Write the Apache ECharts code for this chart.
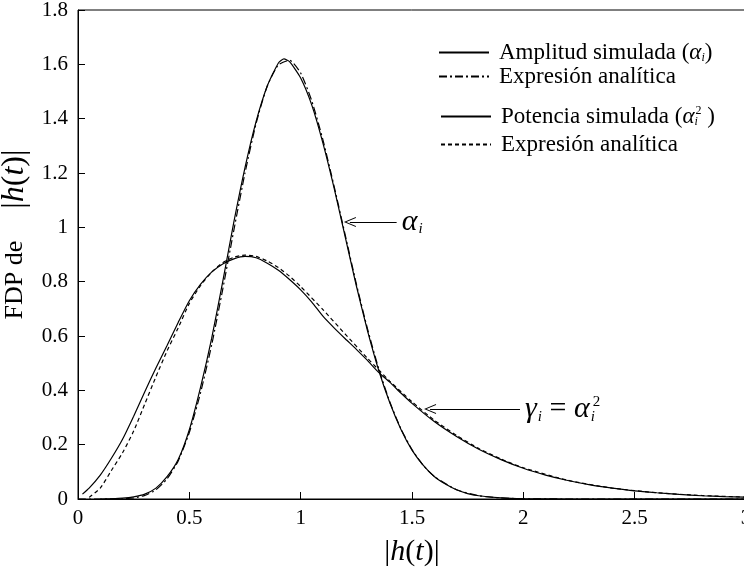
<!DOCTYPE html>
<html><head><meta charset="utf-8">
<script src="https://cdn.jsdelivr.net/npm/echarts/dist/echarts.min.js"></script>
<style>html,body{margin:0;padding:0;background:#fff}#c{width:744px;height:570px}</style>
</head><body><div id="c"></div>
<script>
// ---- data ----
const alphaSimX = [0.1,0.15,0.2,0.25,0.3,0.35,0.4,0.45,0.5,0.55,0.6,0.65,0.7,0.75,0.8,0.85,0.9,0.925,0.95,1.0,1.05,1.1,1.15,1.2,1.25,1.3,1.35,1.4,1.45,1.5,1.55,1.6,1.65,1.7,1.75,1.8,1.9,2.0,2.2,2.5,3.0];
const alphaSimY = [0,0.001,0.003,0.008,0.018,0.04,0.082,0.145,0.255,0.41,0.59,0.8,1.02,1.22,1.39,1.52,1.605,1.62,1.61,1.55,1.45,1.31,1.145,0.965,0.785,0.62,0.475,0.355,0.257,0.18,0.125,0.083,0.055,0.034,0.02,0.012,0.004,0.001,0,0,0];
const alphaAnaX = [0,0.1,0.2,0.25,0.3,0.35,0.4,0.45,0.5,0.55,0.6,0.65,0.7,0.75,0.8,0.85,0.9,0.95,1.0,1.05,1.1,1.15,1.2,1.25,1.3,1.35,1.4,1.45,1.5,1.55,1.6,1.7,1.8,1.9,2.0,2.2,2.5,3.0];
const alphaAnaY = [0,0,0.001,0.004,0.013,0.034,0.074,0.14,0.245,0.39,0.566,0.772,0.99,1.2,1.383,1.52,1.598,1.615,1.568,1.465,1.322,1.152,0.972,0.792,0.627,0.481,0.358,0.259,0.182,0.124,0.083,0.034,0.012,0.004,0.001,0,0,0];
const gammaSimX = [0.02,0.05,0.1,0.15,0.2,0.25,0.3,0.35,0.4,0.45,0.5,0.55,0.6,0.65,0.7,0.75,0.8,0.85,0.9,0.95,1.0,1.05,1.1,1.15,1.2,1.25,1.3,1.35,1.4,1.45,1.5,1.6,1.7,1.8,1.9,2.0,2.1,2.2,2.3,2.4,2.5,2.6,2.7,2.8,2.9,3.0];
const gammaSimY = [0.018,0.04,0.088,0.15,0.22,0.305,0.395,0.482,0.565,0.65,0.73,0.79,0.835,0.865,0.884,0.893,0.888,0.868,0.842,0.808,0.77,0.725,0.673,0.63,0.59,0.551,0.51,0.466,0.43,0.39,0.352,0.285,0.23,0.183,0.145,0.113,0.088,0.068,0.052,0.04,0.03,0.023,0.017,0.012,0.009,0.007];
const gammaAnaX = [0.05,0.1,0.15,0.2,0.25,0.3,0.35,0.4,0.45,0.5,0.55,0.6,0.65,0.7,0.75,0.8,0.85,0.9,0.95,1.0,1.1,1.2,1.3,1.4,1.5,1.6,1.7,1.8,1.9,2.0,2.2,2.4,2.6,2.8,3.0];
const gammaAnaY = [0.006,0.04,0.105,0.17,0.25,0.35,0.45,0.545,0.63,0.72,0.785,0.835,0.87,0.89,0.898,0.893,0.876,0.852,0.82,0.782,0.697,0.607,0.518,0.434,0.358,0.29,0.234,0.186,0.147,0.115,0.069,0.04,0.023,0.013,0.007];

const seriesNames = ['ampSim','ampAna','potSim','potAna'];
const legendLabels = [
  'Amplitud simulada ({g|α}{s|i})',
  'Expresión analítica',
  'Potencia simulada ({g|α}{s0|i}{p|2} )',
  'Expresión analítica'
];
const xTitle = '{b||}{i|h}{b|(}{i|t}{b|)|}';
const yTitle = '{t|FDP de}{gap| }{b||}{i|h}{b|(}{i|t}{b|)|}';
// annotation arrows: [head point, tail point]
const arrowHeads = [[1.221, 1.02], [1.581, 0.331]];
const arrowTails = [[1.431, 1.02], [1.985, 0.331]];
const arrowLabels = ['{g|α}{s|i}', '{g|γ}{s|i}{e| = }{g|α}{s0|i}{p|2}'];

function zip(xs, ys){ return xs.map((x,i)=>[x, ys[i]]); }

const serif = 'Liberation Serif';
const mathRich = {
  g: {fontFamily: serif, fontStyle:'italic', fontSize: 30, color:'#000'},
  s: {fontFamily: serif, fontStyle:'italic', fontSize: 15, color:'#000', verticalAlign:'bottom', padding:[10,0,0,1]},
  s0:{fontFamily: serif, fontStyle:'italic', fontSize: 15, color:'#000', verticalAlign:'bottom', padding:[10,0,0,1], width:2},
  p: {fontFamily: serif, fontSize: 15, color:'#000', verticalAlign:'top', padding:[0,0,10,0]},
  e: {fontFamily: serif, fontSize: 30, color:'#000'}
};
const titleRich = {
  t: {fontFamily: serif, fontSize: 26, color:'#000'},
  b: {fontFamily: serif, fontSize: 32, color:'#000'},
  i: {fontFamily: serif, fontStyle:'italic', fontSize: 32, color:'#000'},
  gap: {fontSize: 10, width: 32}
};
const xTitleRich = {
  b: {fontFamily: serif, fontSize: 30, color:'#000'},
  i: {fontFamily: serif, fontStyle:'italic', fontSize: 30, color:'#000'}
};
const legendRich = {
  g: {fontFamily: serif, fontStyle:'italic', fontSize: 23, color:'#000'},
  s: {fontFamily: serif, fontStyle:'italic', fontSize: 12, color:'#000', verticalAlign:'bottom', padding:[7,0,0,0]},
  s0:{fontFamily: serif, fontStyle:'italic', fontSize: 12, color:'#000', verticalAlign:'bottom', padding:[7,0,0,0], width:1},
  p: {fontFamily: serif, fontSize: 12, color:'#000', verticalAlign:'top', padding:[0,0,7,0]}
};

const chart = echarts.init(document.getElementById('c'), null, {renderer:'canvas'});
const lineBase = {type:'line', symbol:'none', smooth:0.2, animation:false, silent:true};
const legendCommon = {orient:'vertical', padding:0, itemWidth:50, itemHeight:14,
  itemStyle:{opacity:0},
  formatter:n=>legendLabels[seriesNames.indexOf(n)],
  textStyle:{color:'#000', fontFamily:serif, fontSize:23, lineHeight:23, padding:[0,0,0,5], rich:legendRich}};
const option = {
  backgroundColor:'#fff',
  animation:false,
  grid:{left:78, top:10, width:668, height:489, outerBoundsMode:'none', containLabel:false,
        show:true, borderColor:'#000', borderWidth:1, backgroundColor:'transparent'},
  xAxis:{
    type:'value', min:0, max:3, interval:0.5,
    axisLine:{show:true, lineStyle:{color:'#000', width:1}},
    axisTick:{inside:true, length:7, lineStyle:{color:'#000'}},
    axisLabel:{color:'#000', fontFamily:serif, fontSize:21, margin:9, hideOverlap:false},
    splitLine:{show:false},
    name:xTitle, nameLocation:'middle', nameGap:38,
    nameTextStyle:{color:'#000', fontFamily:serif, fontSize:30, rich:xTitleRich}
  },
  yAxis:{
    type:'value', min:0, max:1.8, interval:0.2,
    axisLine:{show:true, lineStyle:{color:'#000', width:1}},
    axisTick:{inside:true, length:7, lineStyle:{color:'#000'}},
    axisLabel:{color:'#000', fontFamily:serif, fontSize:21, margin:10},
    splitLine:{show:false},
    name:yTitle, nameLocation:'middle', nameGap:42, nameRotate:90,
    nameTextStyle:{color:'#000', fontFamily:serif, fontSize:26, padding:[0,0,0,40], rich:titleRich}
  },
  legend:[
    Object.assign({}, legendCommon, {id:'legA', data:seriesNames.slice(0,2), left:438, top:41, itemGap:1}),
    Object.assign({}, legendCommon, {id:'legB', data:seriesNames.slice(2,4), left:440, top:105, itemGap:5})
  ],
  series:[
    Object.assign({}, lineBase, {name:seriesNames[0], data:zip(alphaSimX, alphaSimY), lineStyle:{color:'#000', width:1.2, type:'solid'}, itemStyle:{color:'#000'}}),
    Object.assign({}, lineBase, {name:seriesNames[1], data:zip(alphaAnaX, alphaAnaY), lineStyle:{color:'#000', width:1.2, type:[8,3,2,3]}, itemStyle:{color:'#000'}}),
    Object.assign({}, lineBase, {name:seriesNames[2], data:zip(gammaSimX, gammaSimY), lineStyle:{color:'#000', width:1.2, type:'solid'}, itemStyle:{color:'#000'}}),
    Object.assign({}, lineBase, {name:seriesNames[3], data:zip(gammaAnaX, gammaAnaY), lineStyle:{color:'#000', width:1.2, type:[4,3]}, itemStyle:{color:'#000'},
      markLine:{
        silent:true, animation:false,
        symbol:['path://M0,10L5,0L10,10L9,10L5,2L1,10Z','none'], symbolSize:[10,12],
        lineStyle:{color:'#000', width:1.2, type:'solid'},
        label:{show:true, position:'end', distance:5, color:'#000', formatter:p=>arrowLabels[p.dataIndex], rich:mathRich},
        data: arrowHeads.map((h,i)=>[{coord:h}, {coord:arrowTails[i]}])
      }})
  ]
};
chart.setOption(option);
</script>
</body></html>
